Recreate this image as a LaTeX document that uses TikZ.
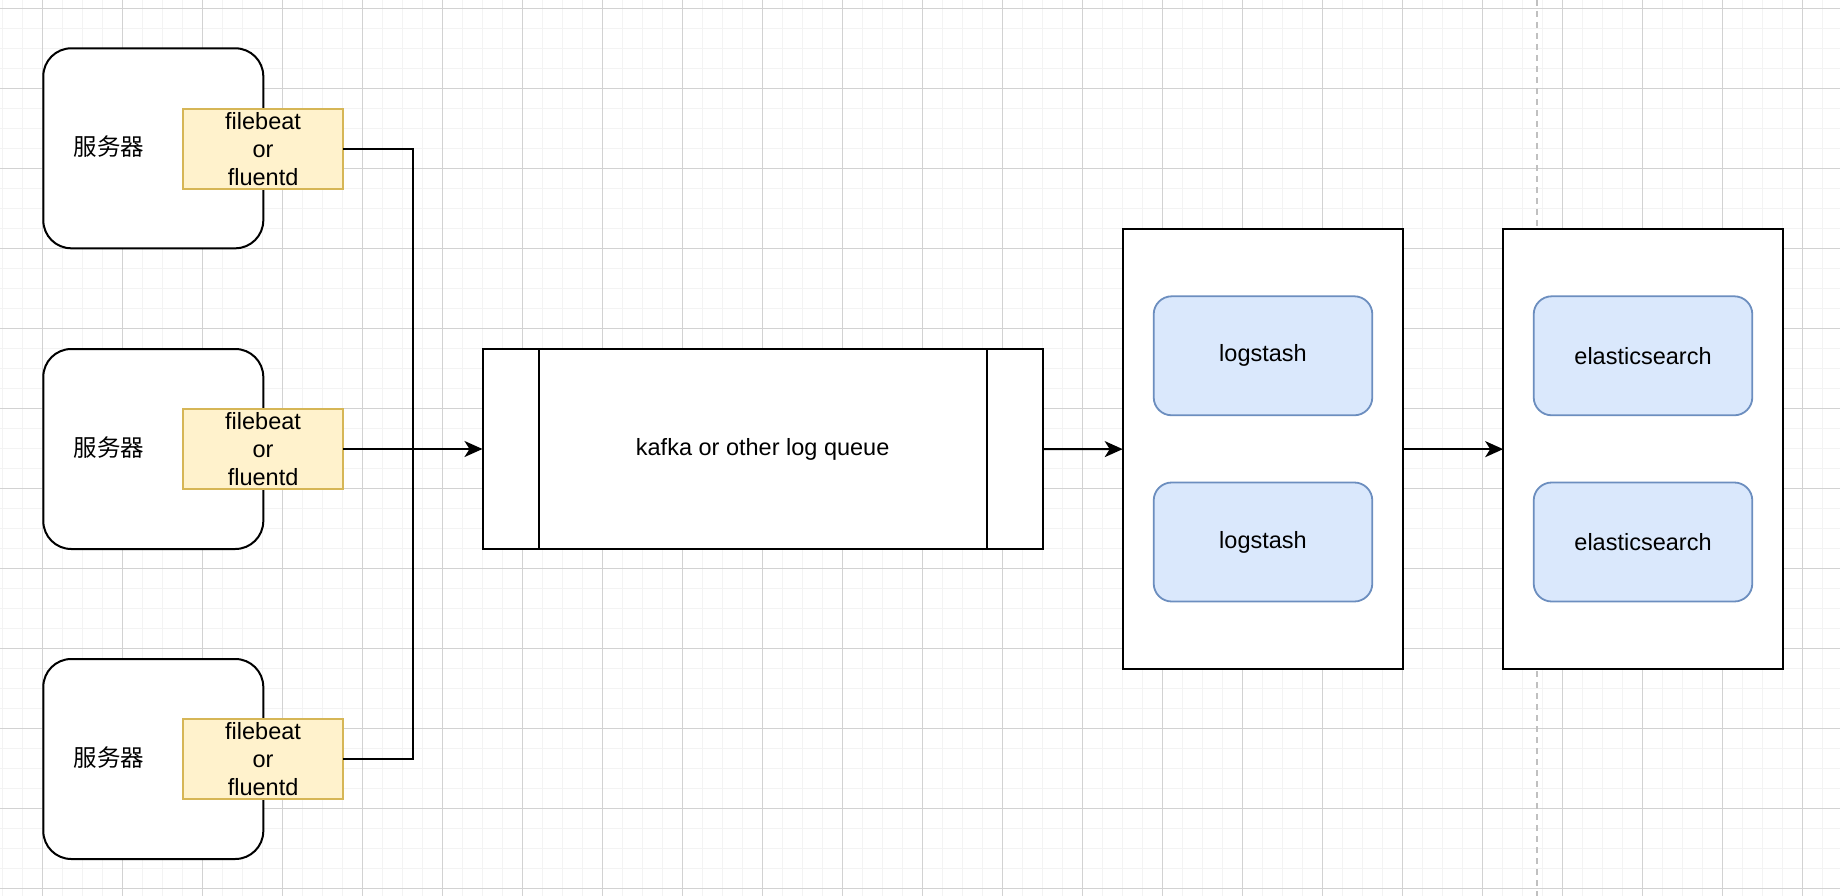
\documentclass[tikz,border=0pt]{standalone}
\usepackage{fontspec}
\setmainfont{Liberation Sans}
\newfontfamily\cjk{Noto Sans CJK SC}
\usetikzlibrary{arrows.meta}
\definecolor{gridminor}{HTML}{F3F3F3}
\definecolor{gridmajor}{HTML}{D2D2D2}
\definecolor{pageline}{HTML}{C0C0C0}
\definecolor{yfill}{HTML}{FFF2CC}
\definecolor{yline}{HTML}{D6B656}
\definecolor{bfill}{HTML}{DAE8FC}
\definecolor{bline}{HTML}{6C8EBF}
\tikzset{
  every node/.style={inner sep=0pt, outer sep=0pt, font=\fontsize{23.5}{28.2}\selectfont},
  serverbox/.style={draw=black, line width=2pt, fill=white, rounded corners=28pt, minimum width=220pt, minimum height=200pt},
  agentbox/.style={draw=yline, line width=1.8pt, fill=yfill, minimum width=160.4pt, minimum height=80pt},
  queuebox/.style={draw=black, line width=2pt, fill=white, minimum width=560.3pt, minimum height=200pt},
  containerbox/.style={draw=black, line width=2pt, fill=white, minimum width=280pt, minimum height=439.7pt},
  bluebox/.style={draw=bline, line width=1.8pt, fill=bfill, rounded corners=18pt, minimum width=218.6pt, minimum height=119pt},
  conn/.style={draw=black, line width=2pt},
  arr/.style={conn, -{Stealth[length=18pt,width=16pt,inset=5pt]}}
}
\begin{document}
\begin{tikzpicture}[x=1pt,y=-1pt]
\useasboundingbox (0,0) rectangle (1840,896);
\fill[white] (0,0) rectangle (1840,896);
% grid
\foreach \i in {0,...,91} \draw[gridminor, line width=1.5pt] ({2.7+20*\i},0) -- ({2.7+20*\i},896);
\foreach \i in {0,...,44} \draw[gridminor, line width=1.5pt] (0,{8.3+20*\i}) -- (1840,{8.3+20*\i});
\foreach \i in {0,...,22} \draw[gridmajor, line width=1pt] ({42.7+80*\i},0) -- ({42.7+80*\i},896);
\foreach \i in {0,...,11} \draw[gridmajor, line width=1pt] (0,{8.3+80*\i}) -- (1840,{8.3+80*\i});
% page break line
\draw[pageline, line width=2pt, dash pattern=on 6pt off 5pt] (1536.7,0) -- (1536.7,896);

% servers
\node[serverbox] (s1) at (153.3,148.3) {};
\node[serverbox] (s2) at (153.3,449) {};
\node[serverbox] (s3) at (153.3,759) {};
\node (t1) at (109,147) {\cjk 服务器};
\node (t2) at (109,447.5) {\cjk 服务器};
\node (t3) at (109,757.5) {\cjk 服务器};

\node[agentbox, align=center] (a1) at (263.1,149) {filebeat\\or\\fluentd};
\node[agentbox, align=center] (a2) at (263.1,449) {filebeat\\or\\fluentd};
\node[agentbox, align=center] (a3) at (263.1,759) {filebeat\\or\\fluentd};

% queue
\node[queuebox] (k) at (762.65,449) {kafka or other log queue};
\draw[conn] (538.8,349) coordinate (kd1a) -- (538.8,549) coordinate (kd1b);
\draw[conn] (987,349) coordinate (kd2a) -- (987,549) coordinate (kd2b);

% logstash
\node[containerbox] (lc) at (1262.7,449.15) {};
\node[bluebox] (l1) at (1263,355.8) {logstash};
\node[bluebox] (l2) at (1263,542) {logstash};

% elasticsearch
\node[containerbox] (ec) at (1643.2,449.15) {};
\node[bluebox] (e1) at (1643,355.8) {elasticsearch};
\node[bluebox] (e2) at (1643,542) {elasticsearch};

% connectors
\coordinate (j) at (413.3,449);
\draw[conn] (a1.east) -| (j);
\draw[conn] (a3.east) -| (j);
\draw[arr] (a2.east) -- (k.west);
\draw[arr] (k.east) -- (lc.west);
\draw[arr] (lc.east) -- (ec.west);
\end{tikzpicture}
\end{document}
